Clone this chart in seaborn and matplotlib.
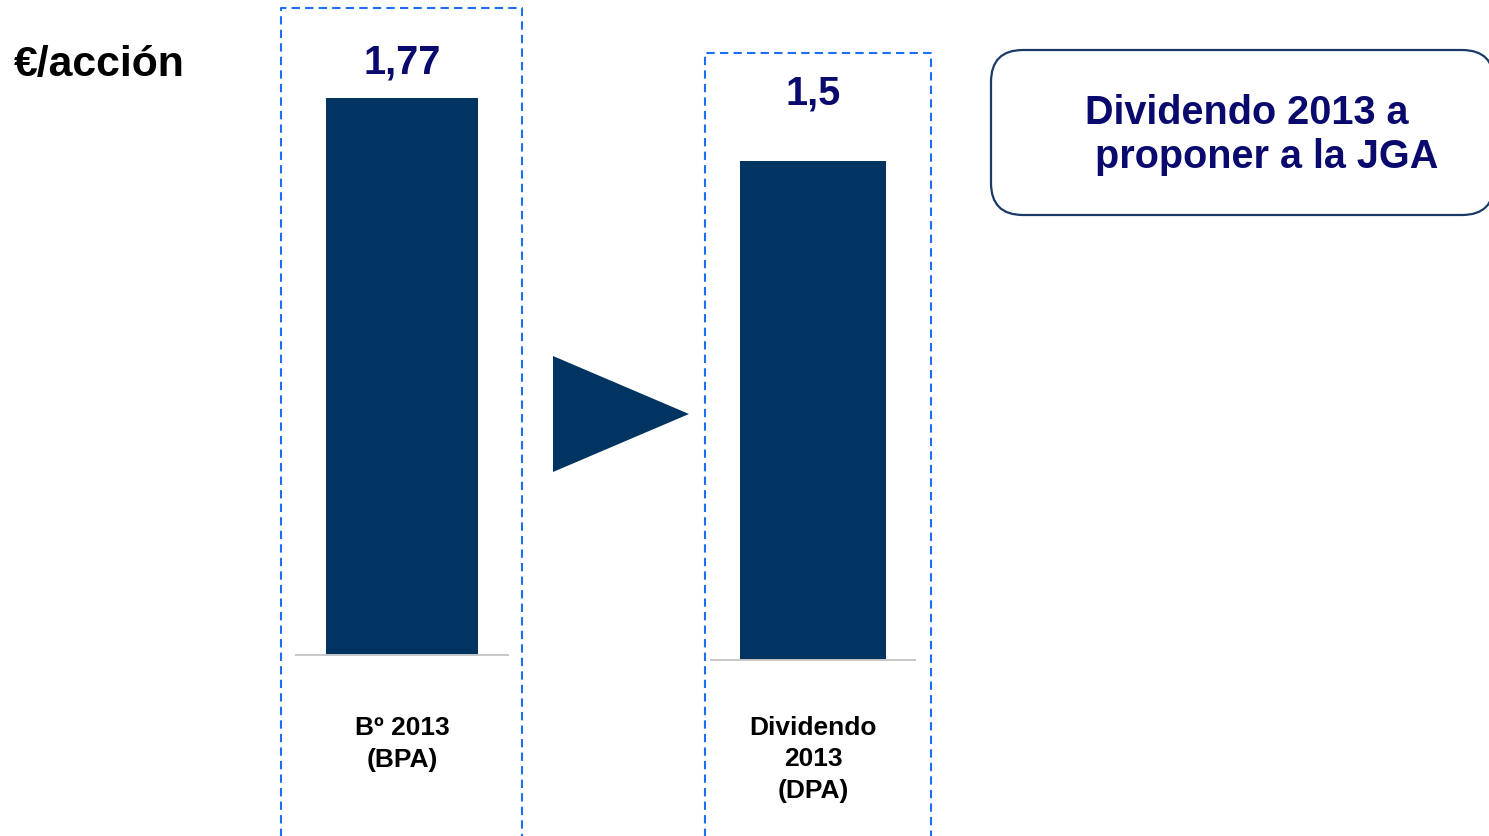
import matplotlib
matplotlib.use("Agg")
import matplotlib.pyplot as plt
import pandas as pd
import seaborn as sns
from matplotlib.lines import Line2D
from matplotlib.patches import FancyBboxPatch, Polygon

# data
categories = ["Bº 2013\n(BPA)", "Dividendo\n2013\n(DPA)"]
values = [1.77, 1.5]
value_labels = ["1,77", "1,5"]
unit_label = "€/acción"
box_text = ["Dividendo 2013 a", "proponer a la JGA"]

BAR_COLOR = "#023462"
NAVY_TEXT = "#0A0A6E"
DASH_BLUE = "#1C6EF2"
BOX_EDGE = "#1B3A66"

W, H = 1489, 836

sns.set_theme(style="white")
plt.rcParams["font.family"] = ["Liberation Sans", "DejaVu Sans"]

fig = plt.figure(figsize=(W / 100, H / 100), dpi=100)


def px(x, y):
    """pixel (from top-left) -> inches for dpi_scale_trans."""
    return x / 100, (H - y) / 100


def add_bar_axes(left, right, base, bar_top, cat, val, lab, width, lab_pad, tick_pad):
    top = 20
    ax = fig.add_axes([left / W, (H - base) / H, (right - left) / W, (base - top) / H])
    df = pd.DataFrame({"cat": [cat], "val": [val]})
    sns.barplot(data=df, x="cat", y="val", ax=ax, color=BAR_COLOR,
                saturation=1, width=width, edgecolor="none")
    ax.set_ylim(0, val * (base - top) / (base - bar_top))
    ax.set_xlim(-0.5, 0.5)
    ax.bar_label(ax.containers[0], labels=[lab], padding=lab_pad,
                 fontsize=28.5, fontweight="bold", color=NAVY_TEXT)
    ax.set(xlabel="", ylabel="", yticks=[])
    ax.patch.set_alpha(0)
    for side in ["top", "left", "right"]:
        ax.spines[side].set_visible(False)
    ax.spines["bottom"].set_color("#c8c8c8")
    ax.spines["bottom"].set_linewidth(1.4)
    ax.tick_params(axis="x", length=0, pad=tick_pad)
    for t in ax.get_xticklabels():
        t.set_fontsize(19)
        t.set_fontweight("bold")
        t.set_color("black")
        t.set_linespacing(1.4)
        t.set_verticalalignment("top")
    return ax


add_bar_axes(296, 508, 655, 98, categories[0], values[0], value_labels[0], 0.717, 12, 44)
add_bar_axes(711, 915, 660, 161, categories[1], values[1], value_labels[1], 0.72, 35, 40)

# dashed frames around each bar
def dashed_frame(x0, x1, y0):
    pts = [(x0, H + 5), (x0, y0), (x1, y0), (x1, H + 5)]
    xs, ys = zip(*[px(x, y) for x, y in pts])
    fig.add_artist(Line2D(xs, ys, transform=fig.dpi_scale_trans, color=DASH_BLUE,
                          lw=1.5, linestyle=(0, (4, 2.5))))

dashed_frame(281, 522, 8)
dashed_frame(705, 931, 53)

# arrow triangle
tri = Polygon([px(553, 356), px(553, 472), px(689, 414)], closed=True,
              transform=fig.dpi_scale_trans, facecolor=BAR_COLOR, edgecolor="none")
fig.add_artist(tri)

# unit label
fig.text(*px(14, 76), unit_label, transform=fig.dpi_scale_trans, fontsize=30.8,
         fontweight="bold", color="black", va="baseline", ha="left")

# rounded call-out box
x0, y0 = px(991, 215)
box = FancyBboxPatch((x0, y0), (1494 - 991) / 100, (215 - 50) / 100,
                     boxstyle="round,pad=0,rounding_size=0.32",
                     transform=fig.dpi_scale_trans, facecolor="white",
                     edgecolor=BOX_EDGE, lw=1.6)
fig.add_artist(box)
fig.text(*px(1085, 124), box_text[0], transform=fig.dpi_scale_trans, fontsize=28.5,
         fontweight="bold", color=NAVY_TEXT, va="baseline", ha="left")
fig.text(*px(1095, 168), box_text[1], transform=fig.dpi_scale_trans, fontsize=28.5,
         fontweight="bold", color=NAVY_TEXT, va="baseline", ha="left")

fig.savefig("out.png", dpi=100)
